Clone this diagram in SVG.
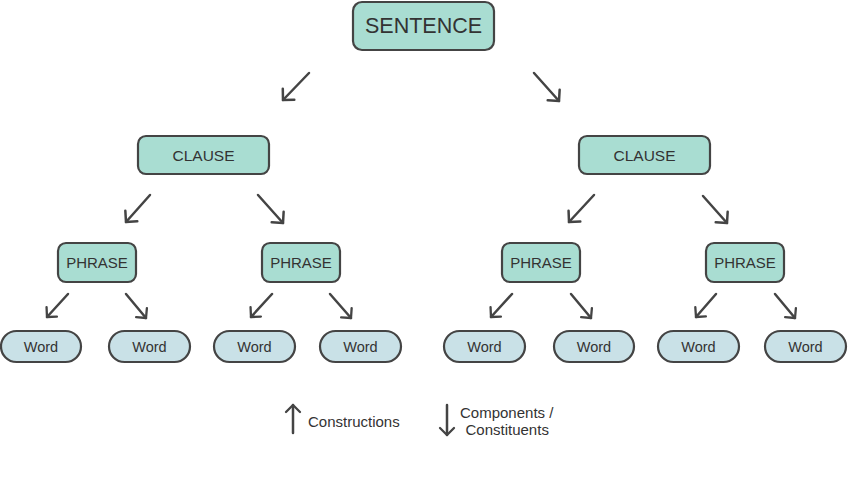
<svg xmlns="http://www.w3.org/2000/svg" width="848" height="477" viewBox="0 0 848 477">
<defs>
<style>
.box{fill:#a9ddd2;stroke:#444;stroke-width:2.2}
.word{fill:#c9e1e7;stroke:#444;stroke-width:2.2}
text{font-family:"Liberation Sans",Arial,sans-serif;fill:#333;text-anchor:middle}
.conn line{stroke:#444;stroke-width:2.5;stroke-linecap:round;fill:none}
.leg{font-size:15px;text-anchor:start}
</style>
<marker id="ah" viewBox="-10 -10 12 20" refX="0" refY="0" markerWidth="12" markerHeight="20" markerUnits="userSpaceOnUse" orient="auto">
<path d="M-8,-8 L0,0 L-8,8" fill="none" stroke="#444" stroke-width="2.5" stroke-linecap="round" stroke-linejoin="round"/>
</marker>
<marker id="ahs" viewBox="-10 -10 12 20" refX="0" refY="0" markerWidth="12" markerHeight="20" markerUnits="userSpaceOnUse" orient="auto">
<path d="M-7,-7 L0,0 L-7,7" fill="none" stroke="#444" stroke-width="2.3" stroke-linecap="round" stroke-linejoin="round"/>
</marker>
</defs>
<rect width="848" height="477" fill="#fff"/>

<g id="sentence"><rect class="box" x="353" y="2" width="141" height="48" rx="9"/><text x="423.5" y="32.5" font-size="21.5">SENTENCE</text></g>

<g id="clause1"><rect class="box" x="138" y="136" width="131" height="38" rx="8"/><text x="203.5" y="160.5" font-size="15.5">CLAUSE</text></g>
<g id="clause2"><rect class="box" x="579" y="136" width="131" height="38" rx="8"/><text x="644.5" y="160.5" font-size="15.5">CLAUSE</text></g>

<g id="phrase1"><rect class="box" x="58" y="243" width="78" height="39" rx="8"/><text x="97" y="267.5" font-size="15">PHRASE</text></g>
<g id="phrase2"><rect class="box" x="262" y="243" width="78" height="39" rx="8"/><text x="301" y="267.5" font-size="15">PHRASE</text></g>
<g id="phrase3"><rect class="box" x="502" y="243" width="78" height="39" rx="8"/><text x="541" y="267.5" font-size="15">PHRASE</text></g>
<g id="phrase4"><rect class="box" x="706" y="243" width="78" height="39" rx="8"/><text x="745" y="267.5" font-size="15">PHRASE</text></g>

<g id="word1"><rect class="word" x="1" y="331" width="80" height="31" rx="15.5"/><text x="41" y="351.5" font-size="14.5">Word</text></g>
<g id="word2"><rect class="word" x="109" y="331" width="81" height="31" rx="15.5"/><text x="149.5" y="351.5" font-size="14.5">Word</text></g>
<g id="word3"><rect class="word" x="214" y="331" width="81" height="31" rx="15.5"/><text x="254.5" y="351.5" font-size="14.5">Word</text></g>
<g id="word4"><rect class="word" x="320" y="331" width="81" height="31" rx="15.5"/><text x="360.5" y="351.5" font-size="14.5">Word</text></g>
<g id="word5"><rect class="word" x="444" y="331" width="81" height="31" rx="15.5"/><text x="484.5" y="351.5" font-size="14.5">Word</text></g>
<g id="word6"><rect class="word" x="554" y="331" width="80" height="31" rx="15.5"/><text x="594" y="351.5" font-size="14.5">Word</text></g>
<g id="word7"><rect class="word" x="658" y="331" width="81" height="31" rx="15.5"/><text x="698.5" y="351.5" font-size="14.5">Word</text></g>
<g id="word8"><rect class="word" x="765" y="331" width="81" height="31" rx="15.5"/><text x="805.5" y="351.5" font-size="14.5">Word</text></g>

<g id="connectors" class="conn">
<line x1="309" y1="73" x2="283" y2="100" marker-end="url(#ah)"/>
<line x1="534" y1="73" x2="559" y2="101" marker-end="url(#ah)"/>
<line x1="150" y1="195" x2="126" y2="222" marker-end="url(#ah)"/>
<line x1="258" y1="195" x2="283" y2="223" marker-end="url(#ah)"/>
<line x1="594" y1="195" x2="569" y2="222" marker-end="url(#ah)"/>
<line x1="703" y1="196" x2="727" y2="223" marker-end="url(#ah)"/>
<line x1="68" y1="294" x2="47" y2="317" marker-end="url(#ahs)"/>
<line x1="126" y1="294" x2="146" y2="318" marker-end="url(#ahs)"/>
<line x1="272" y1="294" x2="251" y2="317" marker-end="url(#ahs)"/>
<line x1="330" y1="294" x2="351" y2="318" marker-end="url(#ahs)"/>
<line x1="512" y1="294" x2="491" y2="317" marker-end="url(#ahs)"/>
<line x1="571" y1="294" x2="591" y2="318" marker-end="url(#ahs)"/>
<line x1="716" y1="294" x2="696" y2="317" marker-end="url(#ahs)"/>
<line x1="775" y1="294" x2="795" y2="318" marker-end="url(#ahs)"/>
</g>

<g id="legend">
<g class="conn"><line x1="293" y1="433" x2="293" y2="405" marker-end="url(#ahs)"/>
<line x1="447" y1="405" x2="447" y2="435" marker-end="url(#ahs)"/></g>
<text class="leg" x="308" y="427">Constructions</text>
<text class="leg" x="460" y="418">Components /</text>
<text class="leg" x="465.5" y="435">Constituents</text>
</g>
</svg>
